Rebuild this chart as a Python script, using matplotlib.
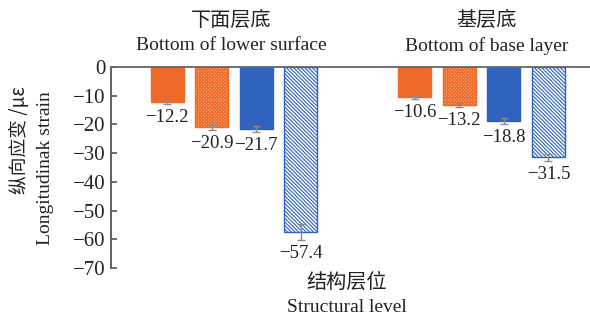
import matplotlib
matplotlib.use("Agg")
import matplotlib.pyplot as plt
import matplotlib.transforms as mtransforms
import numpy as np

# Data
groups_cn = ["下面层底", "基层底"]
groups_en = ["Bottom of lower surface", "Bottom of base layer"]
series_values = [
    [-12.2, -10.6],
    [-20.9, -13.2],
    [-21.7, -18.8],
    [-57.4, -31.5],
]
series_errors = [
    [0.6, 0.5],
    [1.0, 0.7],
    [1.0, 1.0],
    [2.8, 1.2],
]
yticks = [0, -10, -20, -30, -40, -50, -60, -70]

SERIF = ["Liberation Serif", "DejaVu Serif"]
CJK = ["Noto Sans CJK SC", "DejaVu Sans"]

plt.rcParams["hatch.linewidth"] = 0.8

fig = plt.figure(figsize=(5.90, 3.23), dpi=100)
ax = fig.add_axes([0.188, 0.170, 0.812, 0.6226])

orange = "#EE6A28"
orange_light = "#F6AE84"
blue = "#2F63BF"

styles = [
    dict(color=orange, edgecolor=orange, hatch=None),
    dict(color=orange_light, edgecolor=orange, hatch="x" * 10),
    dict(color=blue, edgecolor=blue, hatch=None),
    dict(color="white", edgecolor=blue, hatch="\\" * 9),
]

step = 0.18
width = 0.133
x = np.arange(len(groups_cn))
for i, (vals, errs, st) in enumerate(zip(series_values, series_errors, styles)):
    pos = x + (i - 1.5) * step
    ax.bar(pos, vals, width=width, color=st["color"], edgecolor=st["edgecolor"],
           hatch=st["hatch"], linewidth=1.0, zorder=2)
    ax.errorbar(pos, vals, yerr=errs, fmt="none", ecolor="#8a8a8a",
                elinewidth=1.0, capsize=3, capthick=1.0, zorder=3)
    for p, v, e in zip(pos, vals, errs):
        ax.annotate(f"\u2212{abs(v):.1f}", (p, v - e), xytext=(0, -3.5),
                    textcoords="offset points", ha="center", va="top",
                    fontsize=13.5, family=SERIF, color="#222222")

ax.set_xlim(-0.497, 1.438)
ax.set_ylim(-70, 0)
ax.set_yticks(yticks)
ax.set_yticklabels([("\u2212" + str(abs(t))) if t < 0 else str(t) for t in yticks],
                   family=SERIF, fontsize=15, color="#222222")
ax.tick_params(axis="y", direction="in", length=4, width=1.2, color="#555555", pad=4)
ax.set_xticks([])

for s in ["right", "top"]:
    ax.spines[s].set_visible(False)
ax.spines["left"].set_color("#555555")
ax.spines["left"].set_linewidth(1.3)
ax.spines["bottom"].set_position(("data", 0))
ax.spines["bottom"].set_color("#666666")
ax.spines["bottom"].set_linewidth(1.3)

# Group titles above the axes
trans = mtransforms.blended_transform_factory(ax.transData, fig.transFigure)
title_x = [-0.012, 1.02]
for gx, cn, en in zip(title_x, groups_cn, groups_en):
    ax.text(gx, 1 - 20 / 323, cn, transform=trans, ha="center", va="center",
            fontsize=14.5, family=CJK, color="#222222")
    ax.text(gx, 1 - 46 / 323, en, transform=trans, ha="center", va="center",
            fontsize=14, family=SERIF, color="#222222")

# Axis titles
fig.text(347 / 590, 1 - 282 / 323, "结构层位", ha="center", va="center",
         fontsize=14.5, family=CJK, color="#222222")
fig.text(347 / 590, 1 - 307 / 323, "Structural level", ha="center", va="center",
         fontsize=14, family=SERIF, color="#222222")
fig.text(20 / 590, 1 - 140 / 323, "纵向应变 /με", ha="center", va="center",
         rotation=90, fontsize=13.5, family=CJK + SERIF, color="#222222")
fig.text(46 / 590, 1 - 168 / 323, "Longitudinak strain", ha="center", va="center",
         rotation=90, fontsize=14, family=SERIF, color="#222222")

fig.savefig("out.png", dpi=100, facecolor="white")
